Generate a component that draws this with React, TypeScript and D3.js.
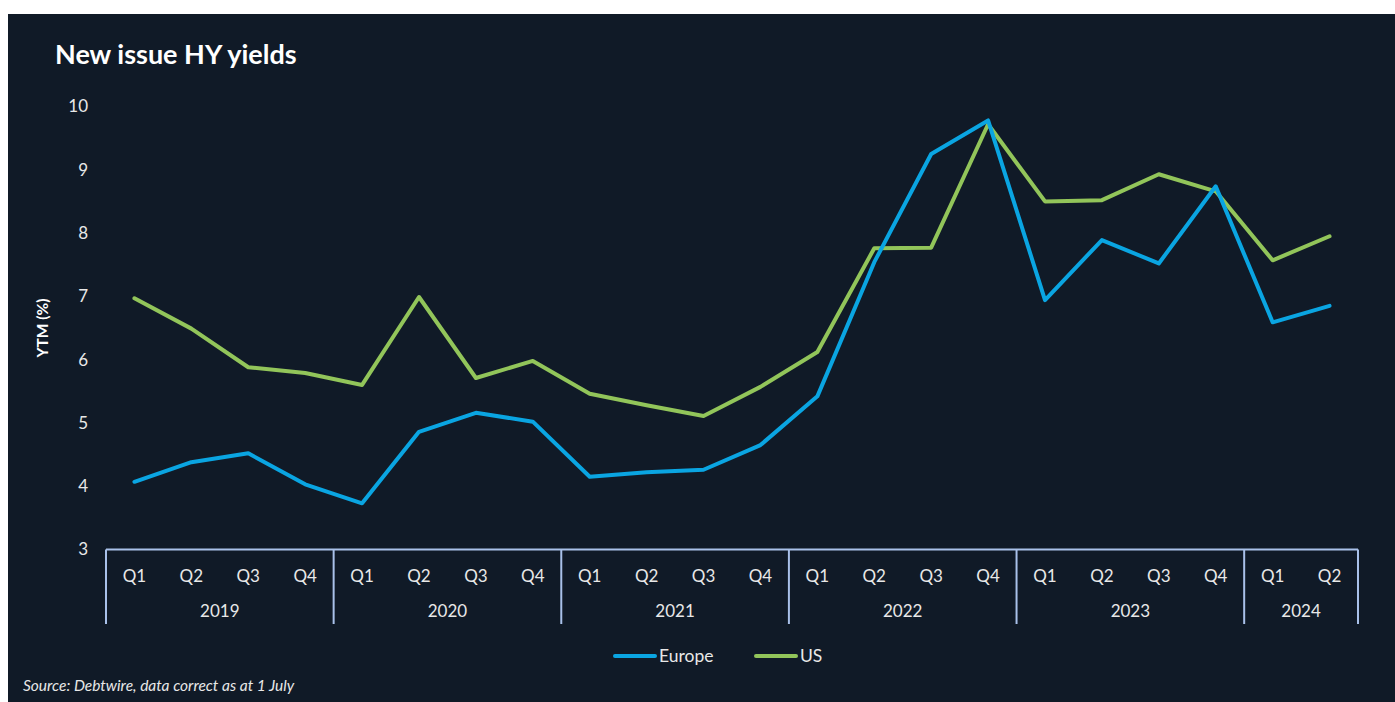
import React, { useEffect, useRef } from "react";
import * as d3 from "d3";

const years = ["2019", "2020", "2021", "2022", "2023", "2024"];
const quartersPerYear = [4, 4, 4, 4, 4, 2];
const quarterLabels = ["Q1", "Q2", "Q3", "Q4"];
const europe = [4.07, 4.38, 4.52, 4.03, 3.73, 4.86, 5.16, 5.02, 4.15, 4.22, 4.26, 4.65, 5.42, 7.54, 9.25, 9.78, 6.94, 7.89, 7.52, 8.74, 6.59, 6.85];
const us = [6.97, 6.49, 5.88, 5.79, 5.6, 6.99, 5.71, 5.98, 5.46, 5.28, 5.11, 5.57, 6.12, 7.76, 7.77, 9.72, 8.5, 8.52, 8.93, 8.66, 7.57, 7.95];
const yTicks = [3, 4, 5, 6, 7, 8, 9, 10];

const W = 1395, H = 702;
const BG = "#101a27";
const BLUE = "#0aa5e2";
const GREEN = "#92c55a";
const AXIS = "#a9c1ea";
const TEXT = "#e8e8e8";
const FONT = "'Source Sans Pro', Lato, 'Open Sans', sans-serif";

export default function App() {
  const ref = useRef<SVGSVGElement>(null);
  useEffect(() => {
    const svg = d3.select(ref.current);
    svg.selectAll("*").remove();
    svg.append("rect").attr("x", 8).attr("y", 14).attr("width", W - 8).attr("height", H - 14).attr("fill", BG);

    const cats: { key: string; q: string; year: string }[] = [];
    years.forEach((y, i) => {
      for (let k = 0; k < quartersPerYear[i]; k++) cats.push({ key: `${y}-${quarterLabels[k]}`, q: quarterLabels[k], year: y });
    });
    const x = d3.scaleBand().domain(cats.map(c => c.key)).range([106, 1358]);
    const y = d3.scaleLinear().domain([3, 10]).range([549.5, 106.5]);

    svg.append("text").attr("x", 55).attr("y", 64).attr("fill", "#ffffff")
      .attr("font-family", FONT).attr("font-weight", 700).attr("font-size", 27).text("New issue HY yields");

    // y tick labels
    svg.append("g").selectAll("text").data(yTicks).join("text")
      .attr("x", 88).attr("y", d => y(d)).attr("dy", "0.35em").attr("text-anchor", "end")
      .attr("fill", TEXT).attr("font-family", FONT).attr("font-size", 17).text(d => String(d));

    svg.append("text").attr("transform", `translate(48,328) rotate(-90)`).attr("text-anchor", "middle")
      .attr("fill", "#ffffff").attr("font-family", FONT).attr("font-weight", 700).attr("font-size", 15.5).text("YTM (%)");

    // x axis box
    const ax = svg.append("g");
    ax.append("line").attr("x1", 106).attr("x2", 1358).attr("y1", y(3)).attr("y2", y(3)).attr("stroke", AXIS).attr("stroke-width", 2);
    let idx = 0;
    const bounds: number[] = [106];
    years.forEach((yr, i) => {
      const start = x(cats[idx].key)!;
      idx += quartersPerYear[i];
      const end = x(cats[idx - 1].key)! + x.bandwidth();
      bounds.push(end);
      ax.append("text").attr("x", (start + end) / 2).attr("y", 611).attr("dy", "0.35em").attr("text-anchor", "middle")
        .attr("fill", TEXT).attr("font-family", FONT).attr("font-size", 17).text(yr);
    });
    bounds.forEach(b => {
      ax.append("line").attr("x1", b).attr("x2", b).attr("y1", y(3)).attr("y2", 624).attr("stroke", AXIS).attr("stroke-width", 2);
    });
    ax.selectAll("text.q").data(cats).join("text").attr("class", "q")
      .attr("x", d => x(d.key)! + x.bandwidth() / 2).attr("y", 576).attr("dy", "0.35em").attr("text-anchor", "middle")
      .attr("fill", TEXT).attr("font-family", FONT).attr("font-size", 17).text(d => d.q);

    const line = d3.line<number>().x((_, i) => x(cats[i].key)! + x.bandwidth() / 2).y(d => y(d));
    svg.append("path").attr("d", line(us)!).attr("fill", "none").attr("stroke", GREEN).attr("stroke-width", 4).attr("stroke-linecap", "round").attr("stroke-linejoin", "round");
    svg.append("path").attr("d", line(europe)!).attr("fill", "none").attr("stroke", BLUE).attr("stroke-width", 4).attr("stroke-linecap", "round").attr("stroke-linejoin", "round");

    // legend
    const legend = [{ name: "Europe", color: BLUE, x: 613 }, { name: "US", color: GREEN, x: 754 }];
    const lg = svg.append("g");
    legend.forEach(l => {
      lg.append("line").attr("x1", l.x + 2).attr("x2", l.x + 42).attr("y1", 656).attr("y2", 656).attr("stroke", l.color).attr("stroke-width", 4).attr("stroke-linecap", "round");
      lg.append("text").attr("x", l.x + 46).attr("y", 656).attr("dy", "0.35em").attr("fill", TEXT).attr("font-family", FONT).attr("font-size", 17.5).text(l.name);
    });

    svg.append("text").attr("x", 23).attr("y", 686).attr("dy", "0.35em").attr("fill", TEXT).attr("font-family", FONT)
      .attr("font-style", "italic").attr("font-size", 15.5).text("Source: Debtwire, data correct as at 1 July");
  }, []);
  return <svg ref={ref} width={W} height={H} style={{ position: "absolute", left: 0, top: 0, display: "block" }} />;
}
